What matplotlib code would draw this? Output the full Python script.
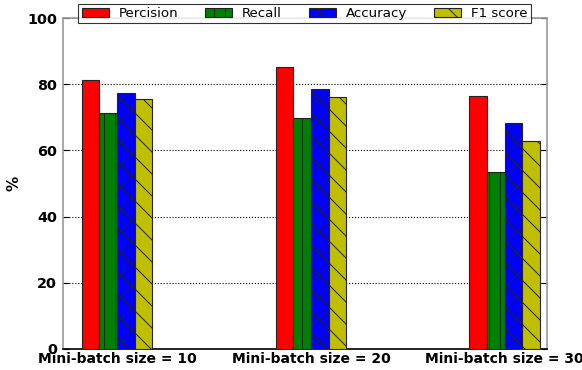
import numpy as np
import matplotlib.pyplot as plt

groups = ['Mini-batch size = 10', 'Mini-batch size = 20', 'Mini-batch size = 30']
metrics = ['Percision', 'Recall', 'Accuracy', 'F1 score']
precision = [81.3, 85.1, 76.4]
recall = [71.2, 69.9, 53.5]
accuracy = [77.5, 78.5, 68.4]
f1_score = [75.7, 76.2, 62.8]

plt.rcParams['hatch.linewidth'] = 1.0
plt.rcParams['font.family'] = 'DejaVu Sans'

DPI = 200 / 3
fig = plt.figure(figsize=(8.7301, 5.5501), dpi=DPI)
ax = fig.add_axes([0.108, 0.057, 0.832, 0.894])

ind = np.arange(len(groups))
width = 0.091
series = [precision, recall, accuracy, f1_score]
colors = ['#ff0000', '#008000', '#0000ff', '#bfbf00']
hatches = ['', '|', 'x', '\\']

for i, vals in enumerate(series):
    ax.bar(ind + i * width, vals, width, align='edge', color=colors[i],
           edgecolor='#222222', linewidth=1.2, hatch=hatches[i],
           label=metrics[i], zorder=3)

ax.set_xlim(-0.098, 2.401)
ax.set_ylim(0, 100)
ax.set_xticks(ind + 2 * width)
ax.set_xticklabels(groups, fontsize=15, fontweight='bold')
ax.set_yticks(range(0, 101, 20))
ax.tick_params(axis='y', labelsize=15.5, direction='in', right=True,
               length=6, width=1.2, pad=6)
ax.tick_params(axis='x', length=0, pad=3)
for lbl in ax.get_yticklabels():
    lbl.set_fontweight('bold')
ax.set_ylabel('%', fontsize=16.5, fontweight='bold', labelpad=6)
ax.yaxis.grid(True, linestyle=':', color='black', linewidth=1.2, zorder=0)
for sp in ax.spines.values():
    sp.set_color('#999999')
    sp.set_linewidth(1.8)
ax.spines['bottom'].set_color('black')

leg = ax.legend(loc='center', bbox_to_anchor=(0.499, 1.0136), ncol=4,
                fontsize=14.5, frameon=True, fancybox=False, edgecolor='black',
                handlelength=2.0, handleheight=0.6, columnspacing=2.0,
                borderpad=0.25, handletextpad=0.75)
leg.get_frame().set_linewidth(1.2)
leg.set_zorder(5)

fig.savefig('out.png', dpi=DPI)
